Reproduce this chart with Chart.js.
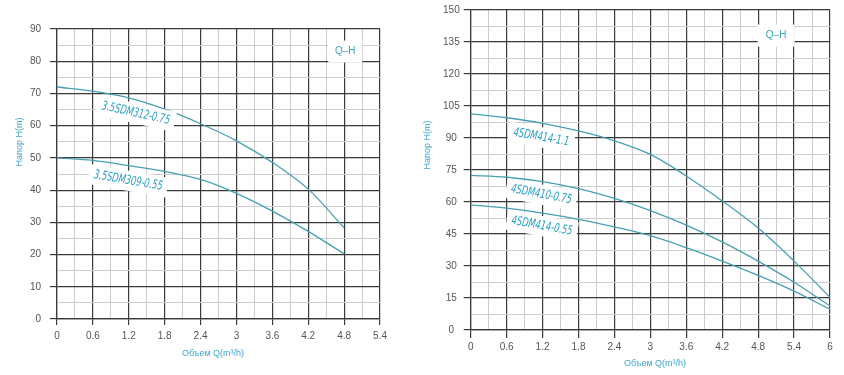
<!DOCTYPE html>
<html>
<head>
<meta charset="utf-8">
<script src="https://cdn.jsdelivr.net/npm/chart.js@4.4.1/dist/chart.umd.min.js"></script>
<style>
  html, body { margin: 0; padding: 0; background: #fff; }
  #wrap { position: relative; width: 844px; height: 375px; overflow: hidden; }
  #leftChart { position: absolute; left: 0; top: 0; }
  #rightChart { position: absolute; left: 420px; top: 0; }
</style>
</head>
<body>
<div id="wrap">
  <canvas id="leftChart" width="420" height="375"></canvas>
  <canvas id="rightChart" width="424" height="375"></canvas>
</div>
<script>
// left chart: 3.5SDM pumps
const leftNames = ['3.5SDM312-0.75', '3.5SDM309-0.55'];
const leftFlow = [0, 0.6, 1.2, 1.8, 2.4, 3, 3.6, 4.2, 4.8];
const leftHead312 = [72, 70.7, 68.6, 65.1, 60.6, 55.3, 48.6, 40.3, 28.3];
const leftHead309 = [50, 49.2, 47.6, 45.8, 43.3, 39, 33.5, 27.2, 20.2];
const leftXTicks = [0, 0.6, 1.2, 1.8, 2.4, 3, 3.6, 4.2, 4.8, 5.4];
const leftYTicks = [0, 10, 20, 30, 40, 50, 60, 70, 80, 90];

// right chart: 4SDM pumps
const rightNames = ['4SDM414-1.1', '4SDM410-0.75', '4SDM414-0.55'];
const rightFlow = [0, 0.6, 1.2, 1.8, 2.4, 3, 3.6, 4.2, 4.8, 5.4, 6];
const rightHead11 = [101.3, 99.5, 96.9, 93.3, 88.7, 82.3, 72.2, 60.5, 47.8, 32.3, 15.3];
const rightHead075 = [72.5, 71.6, 69.6, 66.3, 61.7, 56, 49.2, 41.3, 32.3, 22.4, 11.3];
const rightHead055 = [58.7, 57.1, 54.8, 51.9, 48.3, 44.2, 38.6, 32.3, 25.6, 18.2, 9.7];
const rightXTicks = [0, 0.6, 1.2, 1.8, 2.4, 3, 3.6, 4.2, 4.8, 5.4, 6];
const rightYTicks = [0, 15, 30, 45, 60, 75, 90, 105, 120, 135, 150];

const yTitle = 'Напор H(m)';
const xTitle = 'Объем Q(m³/h)';
const curveTitle = 'Q–H';

const curveColor = '#46a0b2';
const labelColor = '#2a9ec4';
const titleColor = '#3aa6cc';

function withMinor(major) {
    let out = [];
    major.forEach((v, i) => {
        out.push(v);
        if (i < major.length - 1) out.push((v + major[i + 1]) / 2);
    });
    return out;
}

function axis(major, opt) {
    const all = withMinor(major);
    const isMajor = v => major.some(m => Math.abs(m - v) < 1e-6);
    return {
        type: 'linear',
        min: major[0],
        max: major[major.length - 1],
        afterBuildTicks: s => { s.ticks = all.map(v => ({value: v})); },
        afterFit: s => {
            if (opt.width) s.width = opt.width;
            if (opt.height) s.height = opt.height;
        },
        grid: {
            color: c => isMajor(c.tick.value) ? '#3a3a3a' : '#cdcdcd',
            lineWidth: c => isMajor(c.tick.value) ? 1.2 : 1,
            tickColor: c => isMajor(c.tick.value) ? '#3a3a3a' : 'rgba(0,0,0,0)',
            tickLength: opt.tickLength
        },
        border: {color: '#3a3a3a', width: 1.2},
        ticks: {
            autoSkip: false,
            maxRotation: 0,
            padding: opt.padding,
            crossAlign: opt.crossAlign || 'near',
            color: '#555',
            font: {family: 'Liberation Sans', size: 10},
            callback: v => isMajor(v) ? String(Number(v.toFixed(1))) : ''
        }
    };
}

function curve(name, flow, head) {
    return {
        label: name,
        data: flow.map((q, i) => ({x: q, y: head[i]})),
        borderColor: curveColor,
        borderWidth: 1.3,
        pointRadius: 0,
        showLine: true,
        fill: false,
        tension: 0.35
    };
}

// curve names, the Q-H box and axis titles
const decor = {
    id: 'decor',
    afterDatasetsDraw(chart, args, o) {
        const {ctx, scales: {x, y}} = chart;
        ctx.save();
        o.labels.forEach(l => {
            ctx.save();
            ctx.translate(x.getPixelForValue(l.x), y.getPixelForValue(l.y));
            ctx.rotate(l.angle * Math.PI / 180);
            ctx.font = 'italic 12.5px "DejaVu Sans Condensed"';
            const w = ctx.measureText(l.text).width * 0.74;
            ctx.fillStyle = '#fff';
            ctx.fillRect(-w / 2 - 5, -10, w + 10, 20);
            ctx.scale(0.74, 1);
            ctx.fillStyle = labelColor;
            ctx.textAlign = 'center';
            ctx.textBaseline = 'middle';
            ctx.fillText(l.text, 0, 0);
            ctx.restore();
        });

        const bx = x.getPixelForValue(o.box.x), by = y.getPixelForValue(o.box.y);
        ctx.fillStyle = '#fff';
        ctx.fillRect(bx - o.box.w / 2, by - 11, o.box.w, 22);
        ctx.font = '10px "Liberation Sans"';
        ctx.fillStyle = '#3aa7b8';
        ctx.textAlign = 'center';
        ctx.textBaseline = 'middle';
        ctx.fillText(curveTitle, bx, by);

        ctx.font = '9px "Liberation Sans"';
        ctx.fillStyle = titleColor;
        ctx.fillText(xTitle, o.xTitle.x, o.xTitle.y);
        ctx.translate(o.yTitle.x, o.yTitle.y);
        ctx.rotate(-Math.PI / 2);
        ctx.fillText(yTitle, 0, 0);
        ctx.restore();
    }
};

new Chart(document.getElementById('leftChart'), {
    type: 'scatter',
    data: {
        datasets: [
            curve(leftNames[0], leftFlow, leftHead312),
            curve(leftNames[1], leftFlow, leftHead309)
        ]
    },
    options: {
        responsive: false,
        animation: false,
        layout: {padding: {left: 0, top: 29, right: 40, bottom: 0}},
        scales: {
            x: axis(leftXTicks, {height: 56, tickLength: 6, padding: 5}),
            y: axis(leftYTicks, {width: 57, tickLength: 7, padding: 9})
        },
        plugins: {
            legend: {display: false},
            tooltip: {enabled: false},
            decor: {
                labels: [
                    {text: leftNames[0], x: 1.32, y: 63.8, angle: 12.4},
                    {text: leftNames[1], x: 1.19, y: 42.9, angle: 9.9}
                ],
                box: {x: 4.82, y: 83, w: 34},
                xTitle: {x: 213, y: 354},
                yTitle: {x: 20, y: 142}
            }
        }
    },
    plugins: [decor]
});

new Chart(document.getElementById('rightChart'), {
    type: 'scatter',
    data: {
        datasets: [
            curve(rightNames[0], rightFlow, rightHead11),
            curve(rightNames[1], rightFlow, rightHead075),
            curve(rightNames[2], rightFlow, rightHead055)
        ]
    },
    options: {
        responsive: false,
        animation: false,
        layout: {padding: {left: 0, top: 9, right: 14, bottom: 0}},
        scales: {
            x: axis(rightXTicks, {height: 45, tickLength: 8, padding: 3}),
            y: axis(rightYTicks, {width: 50.7, tickLength: 7, padding: 4, crossAlign: 'center'})
        },
        plugins: {
            legend: {display: false},
            tooltip: {enabled: false},
            decor: {
                labels: [
                    {text: rightNames[0], x: 1.18, y: 90.3, angle: 10},
                    {text: rightNames[1], x: 1.18, y: 63.5, angle: 10.8},
                    {text: rightNames[2], x: 1.19, y: 48.7, angle: 10.2}
                ],
                box: {x: 5.1, y: 138, w: 37},
                xTitle: {x: 235, y: 364},
                yTitle: {x: 8, y: 145}
            }
        }
    },
    plugins: [decor]
});
</script>
</body>
</html>
